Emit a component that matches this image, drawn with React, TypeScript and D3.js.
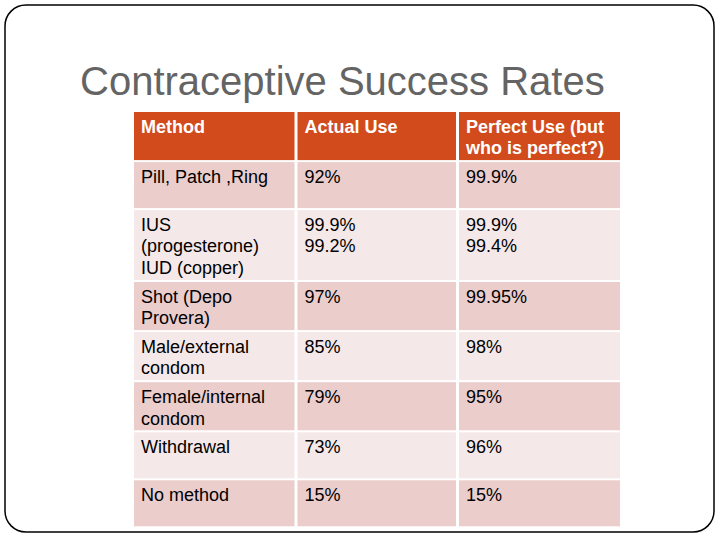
import React from "react";
import * as d3 from "d3";

const title = "Contraceptive Success Rates";
const headers: string[][] = [["Method"], ["Actual Use"], ["Perfect Use (but", "who is perfect?)"]];
const methods: string[][] = [
  ["Pill, Patch ,Ring"],
  ["IUS", "(progesterone)", "IUD (copper)"],
  ["Shot (Depo", "Provera)"],
  ["Male/external", "condom"],
  ["Female/internal", "condom"],
  ["Withdrawal"],
  ["No method"],
];
const actualUse: string[][] = [["92%"], ["99.9%", "99.2%"], ["97%"], ["85%"], ["79%"], ["73%"], ["15%"]];
const perfectUse: string[][] = [["99.9%"], ["99.9%", "99.4%"], ["99.95%"], ["98%"], ["95%"], ["96%"], ["15%"]];

const W = 720;
const H = 540;
const FONT = "'Liberation Sans', Arial, Helvetica, sans-serif";

export default function App() {
  const tableTop = 112;
  const gap = 2;
  const lineH = 21.8;
  const colEdges = [134, 296, 457.5, 620];

  const allRows = [headers, ...methods.map((m, i) => [m, actualUse[i], perfectUse[i]])];
  const heights = allRows.map((r) => {
    const lines = d3.max(r, (c) => c.length) as number;
    return Math.max(46, lines * lineH + 4.5);
  });
  const tops: number[] = [];
  let y = tableTop;
  heights.forEach((h) => {
    tops.push(y);
    y += h + gap;
  });

  const fillFor = (i: number) => (i === 0 ? "#D14B1D" : i % 2 === 1 ? "#EBCDCC" : "#F5E8E8");

  return (
    <svg width={W} height={H} style={{ position: "absolute", left: 0, top: 0 }} fontFamily={FONT}>
      <rect x={0} y={0} width={W} height={H} fill="#fff" />
      <rect x={5} y={5} width={709} height={527} rx={21} ry={21} fill="none" stroke="#000" strokeWidth={1.5} />
      <text x={80} y={95} fontSize={40} fill="#646464">
        {title}
      </text>
      {allRows.map((row, ri) =>
        row.map((cell, ci) => {
          const x0 = colEdges[ci] + (ci === 0 ? 0 : gap / 2 + 0.5);
          const x1 = colEdges[ci + 1] - (ci === 2 ? 0 : gap / 2 + 0.5);
          return (
            <g key={`${ri}-${ci}`}>
              <rect x={x0} y={tops[ri]} width={x1 - x0} height={heights[ri]} fill={fillFor(ri)} />
              {cell.map((line, li) => (
                <text
                  key={li}
                  x={x0 + 7}
                  y={tops[ri] + 20.5 + li * lineH}
                  fontSize={18}
                  fontWeight={ri === 0 ? "bold" : "normal"}
                  fill={ri === 0 ? "#fff" : "#000"}
                >
                  {line}
                </text>
              ))}
            </g>
          );
        })
      )}
    </svg>
  );
}
